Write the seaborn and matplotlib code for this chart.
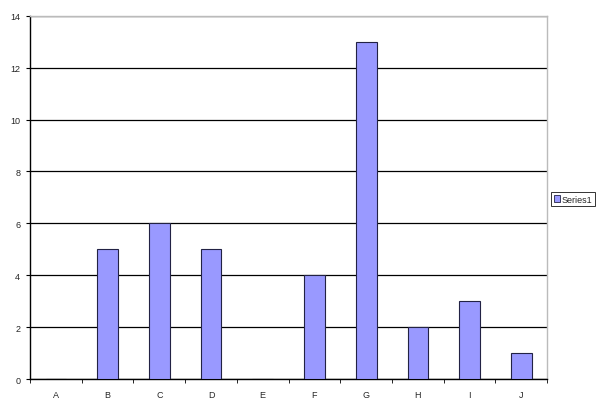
import numpy as np
import pandas as pd
import matplotlib
matplotlib.use('Agg')
import matplotlib.pyplot as plt
import seaborn as sns
from matplotlib.patches import Patch

categories = ['A', 'B', 'C', 'D', 'E', 'F', 'G', 'H', 'I', 'J']
series1 = [0, 5, 6, 5, 0, 4, 13, 2, 3, 1]

#--------------------------------------------------
def main():
    sns.set_style('white')
    plt.rcParams['font.family'] = ['Liberation Sans', 'DejaVu Sans']

    df = pd.DataFrame({'cat': categories, 'val': series1})

    fig = plt.figure(figsize = (6, 4.1), dpi = 100)
    ax = fig.add_axes([0.05, 0.073, 0.862, 0.886])

    sns.barplot(data = df, x = 'cat', y = 'val', color = '#9999FF',
                saturation = 1, width = 0.4, edgecolor = '#222244',
                linewidth = 0.8, ax = ax, zorder = 3)

    ax.set_ylim(0, 14)
    ax.set_xlim(-0.5, len(categories) - 0.5)
    ax.set_yticks(np.arange(0, 15, 2))
    ax.yaxis.grid(True, color = 'black', linewidth = 0.9)
    ax.set_axisbelow(True)
    ax.set_xlabel('')
    ax.set_ylabel('')

    for s in ['left', 'bottom']:
        ax.spines[s].set_color('black')
        ax.spines[s].set_linewidth(1)
    for s in ['right', 'top']:
        ax.spines[s].set_color('#BBBBBB')
        ax.spines[s].set_linewidth(1)

    # minor ticks between categories like Excel
    ax.set_xticks(np.arange(-0.5, len(categories), 1), minor = True)
    ax.tick_params(axis = 'x', which = 'major', length = 0, labelsize = 6.5, pad = 8)
    ax.tick_params(axis = 'x', which = 'minor', length = 3, color = 'black', direction = 'out', bottom = True)
    ax.tick_params(axis = 'y', which = 'major', length = 3, color = 'black', direction = 'out',
                   left = True, labelsize = 6.5, pad = 4)

    handle = Patch(facecolor = '#9999FF', edgecolor = '#222244', linewidth = 0.6)
    leg = fig.legend([handle], ['Series1'], loc = 'center left', bbox_to_anchor = (0.918, 0.512),
                     fontsize = 6.5, frameon = True, fancybox = False, handlelength = 0.7,
                     handleheight = 0.7, handletextpad = 0.2, borderpad = 0.3, borderaxespad = 0)
    leg.get_frame().set_edgecolor('black')
    leg.get_frame().set_linewidth(0.7)

    fig.savefig('out.png', dpi = 100)


#--------------------------------------------------
if __name__ == '__main__':
    main()
